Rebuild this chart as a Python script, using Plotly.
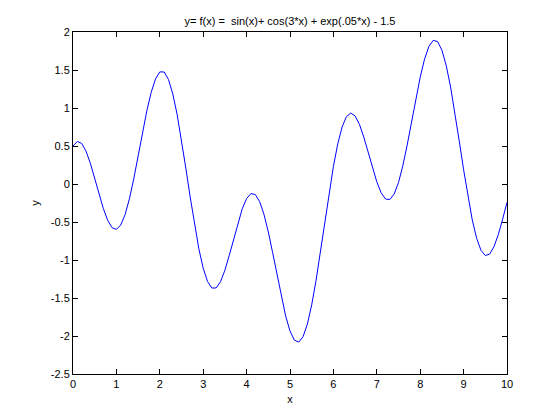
import plotly.graph_objects as go

# x sampled 0:0.1:10
x_vals = [round(i * 0.1, 1) for i in range(101)]
y_vals = [
    0.5000, 0.5601, 0.5340, 0.4322, 0.2720, 0.0754, -0.1322, -0.3250, -0.4792, -0.5748,
    -0.5972, -0.5396, -0.4027, -0.1948, 0.0680, 0.3649, 0.6707, 0.9587, 1.2029, 1.3808,
    1.4747, 1.4740, 1.3752, 1.1836, 0.9118, 0.5786, 0.2087, -0.1713, -0.5338, -0.8532,
    -1.1082, -1.2828, -1.3694, -1.3672, -1.2841, -1.1347, -0.9393, -0.7221, -0.5089, -0.3247,
    -0.1916, -0.1259, -0.1383, -0.2311, -0.3992, -0.6298, -0.9038, -1.1975, -1.4845, -1.7384,
    -1.9346, -2.0531, -2.0805, -2.0101, -1.8438, -1.5909, -1.2685, -0.8984, -0.5070, -0.1217,
    0.2308, 0.5273, 0.7496, 0.8862, 0.9333, 0.8954, 0.7843, 0.6181, 0.4198, 0.2146,
    0.0284, -0.1151, -0.1972, -0.2045, -0.1314, 0.0201, 0.2402, 0.5125, 0.8145, 1.1211,
    1.4054, 1.6423, 1.8092, 1.8900, 1.8747, 1.7619, 1.5576, 1.2759, 0.9368, 0.5652,
    0.1882, -0.1664, -0.4739, -0.7139, -0.8719, -0.9413, -0.9228, -0.8252, -0.6645, -0.4614,
    -0.2410,
]

x_ticks = [0, 1, 2, 3, 4, 5, 6, 7, 8, 9, 10]
y_ticks = [-2.5, -2, -1.5, -1, -0.5, 0, 0.5, 1, 1.5, 2]
y_tick_text = ["-2.5", "-2", "-1.5", "-1", "-0.5", "0", "0.5", "1", "1.5", "2"]

title_text = "y= f(x) =  sin(x)+ cos(3*x) + exp(.05*x) - 1.5"

fig = go.Figure()
fig.add_trace(go.Scatter(x=x_vals, y=y_vals, mode="lines",
                         line=dict(color="#0000ff", width=1), showlegend=False))

font = dict(family="Liberation Sans, Arial, sans-serif", size=11, color="black")

axis_common = dict(
    showgrid=False, zeroline=False, showline=True, linecolor="black", linewidth=1,
    mirror="ticks", ticks="inside", ticklen=5, tickcolor="black", tickwidth=1,
    tickfont=font,
)

fig.update_layout(
    width=560, height=420,
    margin=dict(l=73, r=53, t=32, b=46),
    paper_bgcolor="white", plot_bgcolor="white",
    font=font,
    title=dict(text=title_text, x=0.5, xref="paper", y=1 - 21 / 420, yanchor="middle",
               font=font),
    xaxis=dict(range=[0, 10], tickvals=x_ticks, title=dict(text="x", font=font, standoff=6),
               **axis_common),
    yaxis=dict(range=[-2.5, 2], tickvals=y_ticks, ticktext=y_tick_text,
               title=dict(text="y", font=font, standoff=8), **axis_common),
)

fig.write_html("out.html", config={"displayModeBar": False},
               post_script="document.body.style.margin='0';document.body.style.overflow='hidden';")
